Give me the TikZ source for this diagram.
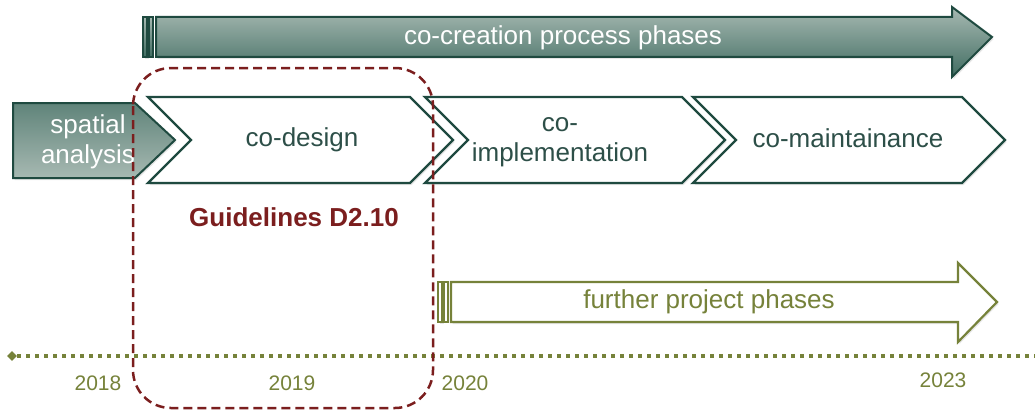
\documentclass[tikz,border=0pt]{standalone}
\usepackage{fontspec}
\setmainfont{Liberation Sans}
\usetikzlibrary{shapes.geometric,shadows}
\definecolor{pine}{HTML}{1F4A40}
\definecolor{pinetext}{HTML}{2D4F48}
\definecolor{pinelight}{HTML}{A7B9B2}
\definecolor{pinedark}{HTML}{416D62}
\definecolor{olivegreen}{HTML}{76823A}
\definecolor{maroon}{HTML}{7B1E1E}

\begin{document}
\begin{tikzpicture}[x=1pt, y=-1pt,
    shade/.style={top color=pinelight, bottom color=pinedark, draw=pine, line width=2pt},
    soft/.style={drop shadow={opacity=0.2, shadow xshift=1.5pt, shadow yshift=-2pt}},
    phase/.style={draw=pine, line width=2.4pt, fill=white, soft},
    phasetext/.style={text=pinetext, font=\fontsize{26}{30}\selectfont, align=center},
    year/.style={text=olivegreen, font=\fontsize{21}{24}\selectfont}]
  \useasboundingbox (0,0) rectangle (1035,412);

  % co-creation arrow
  \shade[shade, line width=1.4pt, soft] (143,17) rectangle (147,57);
  \shade[shade, line width=1.4pt] (149,17) rectangle (153,57);
  \shade[shade, soft] (156,17) -- (952,17) -- (952,7) -- (992,37) -- (952,77) -- (952,57) -- (156,57) -- cycle;
  \node (cocreation) [text=white, font=\fontsize{26}{29}\selectfont] at (563,38) {co-creation process phases};

  % phases
  \shade[top color=pinedark!70!pinelight, bottom color=pinelight, draw=pine, line width=2pt, soft]
    (13,103) -- (135,103) -- (175,140) -- (135,178) -- (13,178) -- cycle;
  \node (spatial) [phasetext, text=white] at (88,142) {spatial\\analysis};

  \draw[phase] (148,97) -- (410,97) -- (453,140) -- (410,183) -- (148,183) -- (191,140) -- cycle;
  \draw[phase] (425,97) -- (682,97) -- (725,140) -- (682,183) -- (425,183) -- (468,140) -- cycle;
  \draw[phase] (693,97) -- (962,97) -- (1005,140) -- (962,183) -- (693,183) -- (736,140) -- cycle;
  \node (codesign) [phasetext] at (302,140) {co-design};
  \node (coimpl) [phasetext] at (560,142) {co-\\implementation};
  \node (comaint) [phasetext] at (848,138) {co-maintainance};

  \node (guidelines) [text=maroon, font=\bfseries\fontsize{26}{29}\selectfont] at (294,217) {Guidelines D2.10};

  % further project phases
  \draw[olivegreen, line width=1.6pt, fill=white, soft] (438,282) rectangle (442,322);
  \draw[olivegreen, line width=1.6pt, fill=white] (444,282) rectangle (448,322);
  \draw[olivegreen, line width=2.2pt, fill=white, soft]
    (451,282) -- (958,282) -- (958,263) -- (997,302) -- (958,342) -- (958,322) -- (451,322) -- cycle;
  \node (further) [text=olivegreen, font=\fontsize{26}{29}\selectfont] at (709,302) {further project phases};

  % timeline
  \node (start) [diamond, fill=olivegreen, minimum size=10pt, inner sep=0pt] at (12,356) {};
  \coordinate (finish) at (1035,356);
  \draw[olivegreen, line width=3.5pt, dash pattern=on 3.5pt off 5.5pt] (start) -- (finish);
  \node (y2018) [year] at (98,383) {2018};
  \node (y2019) [year] at (292,383) {2019};
  \node (y2020) [year] at (465,383) {2020};
  \node (y2023) [year] at (943,380) {2023};

  % guidelines frame
  \draw[maroon, line width=2.5pt, dash pattern=on 9pt off 5pt, rounded corners=38pt] (133,68) rectangle (433,408);
\end{tikzpicture}
\end{document}
